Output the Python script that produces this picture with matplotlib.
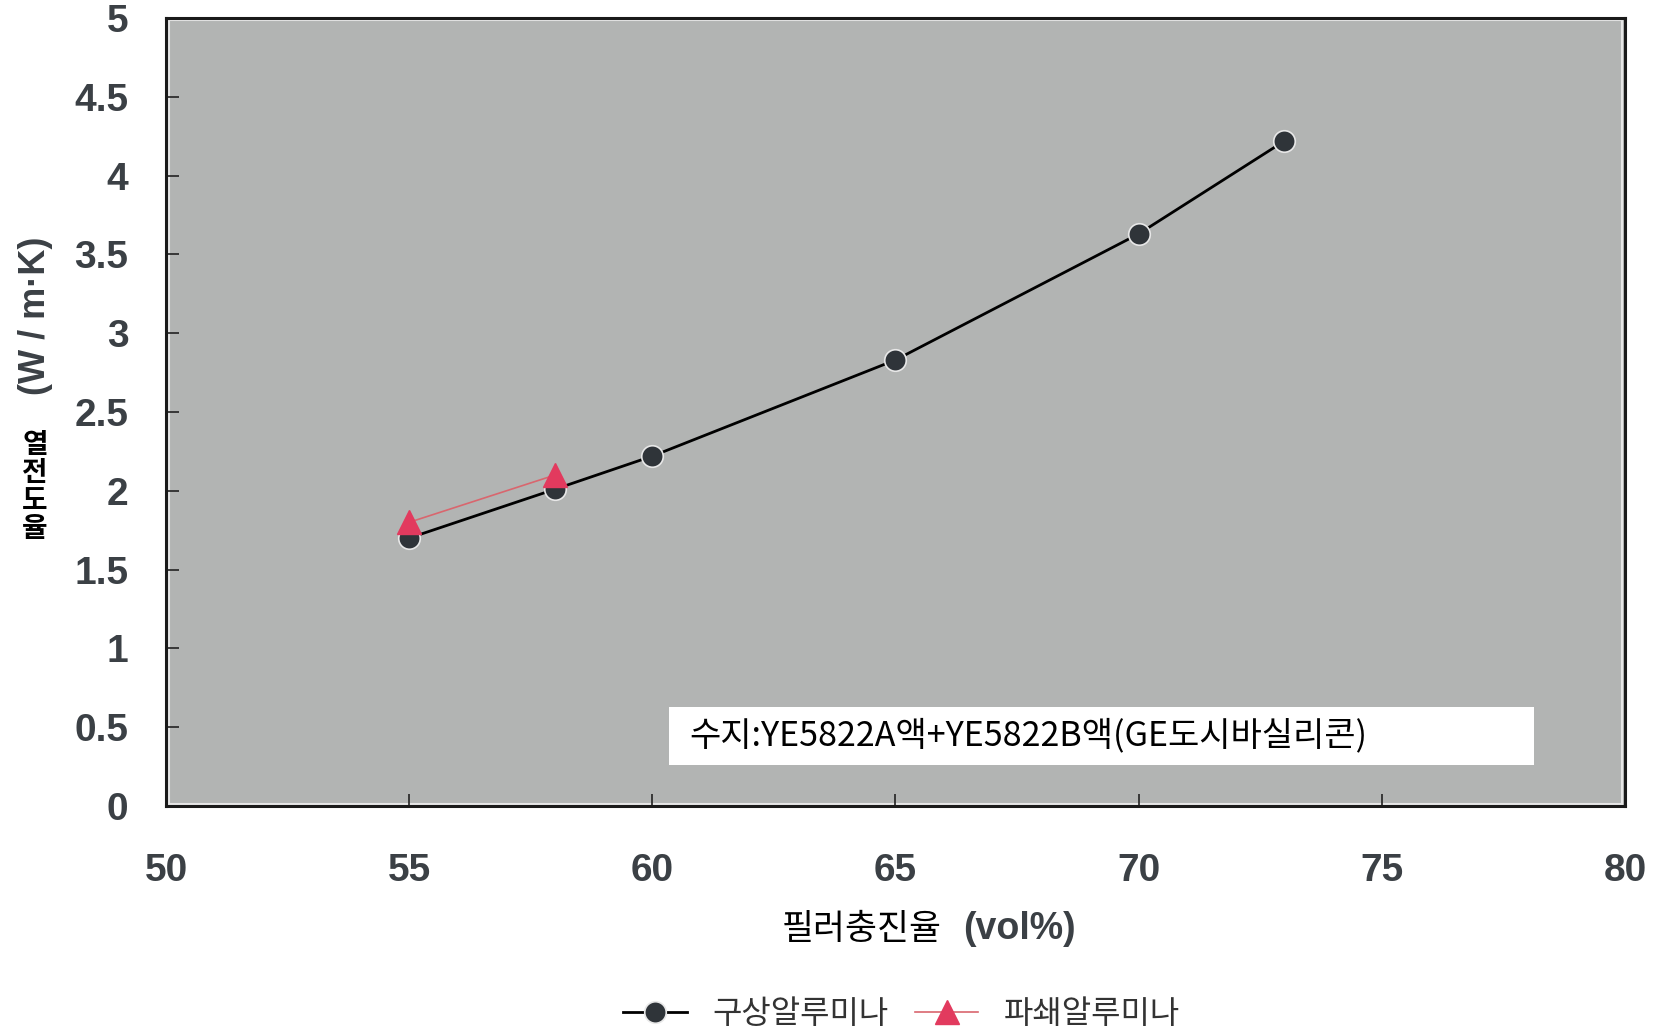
import numpy as np
import matplotlib.pyplot as plt
from matplotlib.patches import Rectangle

# data
filler_sph = [55, 58, 60, 65, 70, 73]          # vol%
k_sph = [1.70, 2.01, 2.22, 2.83, 3.63, 4.22]   # W/m.K
filler_crush = [55, 58]
k_crush = [1.80, 2.10]

x_ticks = [50, 55, 60, 65, 70, 75, 80]
y_ticks = [0, 0.5, 1, 1.5, 2, 2.5, 3, 3.5, 4, 4.5, 5]
y_ticklabels = ['0', '0.5', '1', '1.5', '2', '2.5', '3', '3.5', '4', '4.5', '5']

label_sph = '구상알루미나'
label_crush = '파쇄알루미나'
note = '수지:YE5822A액+YE5822B액(GE도시바실리콘)'

KR = ['Noto Sans CJK KR', 'DejaVu Sans']
NUM = ['Liberation Sans', 'DejaVu Sans']
tick_col = '#3b4045'

fig = plt.figure(figsize=(16.7, 10.3), dpi=100)
ax = fig.add_axes([0.0994, 0.2175, 0.8736, 0.765])
ax.set_facecolor('#b2b4b3')

ax.plot(filler_sph, k_sph, color='black', lw=2.0, marker='o', ms=15.5,
        mfc='#2f3439', mec='#e8e8e8', mew=1.2, zorder=3, label=label_sph)
ax.plot(filler_crush, k_crush, color='#d9666e', lw=1.2, marker='^', ms=17,
        mfc='#e23a5e', mec='#e23a5e', zorder=4, label=label_crush)

ax.set_xlim(50, 80)
ax.set_ylim(0, 5)
ax.set_xticks(x_ticks)
ax.set_xticklabels([str(v) for v in x_ticks])
ax.set_yticks(y_ticks)
ax.set_yticklabels(y_ticklabels)
ax.tick_params(direction='in', length=9, width=1.2, color='#222222')
ax.tick_params(axis='x', pad=34)
ax.tick_params(axis='y', pad=27)
for lab in ax.get_xticklabels() + ax.get_yticklabels():
    lab.set_family(NUM)
    lab.set_weight('bold')
    lab.set_fontsize(28)
    lab.set_color(tick_col)

for s in ax.spines.values():
    s.set_linewidth(2.2)
    s.set_color('#1a1a1a')
# thin light inner border like the original print
ax.add_patch(Rectangle((0.002, 0.003), 0.996, 0.994, transform=ax.transAxes,
                       fill=False, ec='#e6e6e6', lw=1.5, zorder=1))

# note box
ax.add_patch(Rectangle((0.345, 0.052), 0.593, 0.074, transform=ax.transAxes,
                       fc='white', ec='none', zorder=5))
ax.text(0.359, 0.089, note, transform=ax.transAxes, ha='left', va='center',
        fontsize=24.5, family=KR, color='black', zorder=6)

# axis labels
fig.text(0.564, 0.098, '필러충진율', ha='right', va='center', fontsize=25,
         family=KR, color='black')
fig.text(0.577, 0.098, '(vol%)', ha='left', va='center', fontsize=27,
         family=NUM, weight='bold', color=tick_col)
fig.text(0.021, 0.693, '(W / m·K)', rotation=90, ha='center', va='center',
         fontsize=26, family=NUM, weight='bold', color=tick_col)
fig.text(0.021, 0.527, '열\n전\n도\n율', ha='center', va='center', fontsize=20,
         family=KR, weight='bold', color='black', linespacing=1.0)

leg = ax.legend(loc='center', bbox_to_anchor=(0.540, 0.0155),
                bbox_transform=fig.transFigure, ncol=2, frameon=False,
                prop={'family': KR, 'size': 23}, handlelength=2.0,
                columnspacing=0.8, handletextpad=0.8, borderaxespad=0)
for t in leg.get_texts():
    t.set_color('#333333')

fig.savefig('out.png', dpi=100, facecolor='white')
